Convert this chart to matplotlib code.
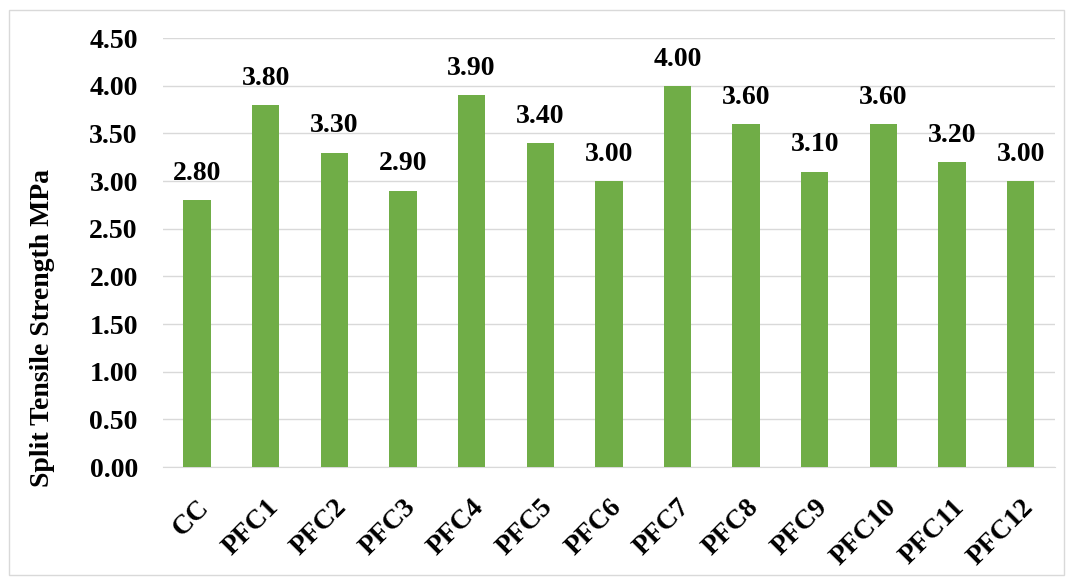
import matplotlib.pyplot as plt
from matplotlib.patches import Rectangle
from matplotlib.transforms import ScaledTranslation

plt.rcParams['font.family'] = ['Liberation Serif', 'DejaVu Serif']
plt.rcParams['font.weight'] = 'bold'

categories = ['CC', 'PFC1', 'PFC2', 'PFC3', 'PFC4', 'PFC5', 'PFC6',
              'PFC7', 'PFC8', 'PFC9', 'PFC10', 'PFC11', 'PFC12']
strength = [2.80, 3.80, 3.30, 2.90, 3.90, 3.40, 3.00,
            4.00, 3.60, 3.10, 3.60, 3.20, 3.00]
yticks = [0.0, 0.5, 1.0, 1.5, 2.0, 2.5, 3.0, 3.5, 4.0, 4.5]

fig = plt.figure(figsize=(10.71, 5.78), dpi=100)
ax = fig.add_axes([0.152, 0.192, 0.833, 0.742])

x = range(len(categories))
bars = ax.bar(x, strength, width=0.4, color='#70AD47', zorder=3)
for b, v in zip(bars, strength):
    ax.text(b.get_x() + b.get_width() / 2, v + 0.15, f'{v:.2f}',
            ha='center', va='bottom', fontsize=20, fontweight='bold')

ax.set_xlim(-0.5, len(categories) - 0.5)
ax.set_ylim(0, 4.5)
ax.set_yticks(yticks)
ax.set_yticklabels([f'{t:.2f}' for t in yticks], fontsize=20, fontweight='bold')
ax.set_xticks(list(x))
ax.set_xticklabels(categories, rotation=45, ha='right', rotation_mode='anchor',
                   fontsize=20, fontweight='bold')
shift = ScaledTranslation(6 / 100, 0, fig.dpi_scale_trans)
for lbl in ax.get_xticklabels():
    lbl.set_transform(lbl.get_transform() + shift)

ax.set_ylabel('Split Tensile Strength MPa', fontsize=20, fontweight='bold')
ax.yaxis.set_label_coords(-0.121, 0.324)

ax.grid(axis='y', color='#D9D9D9', linewidth=1, zorder=0)
for s in ['top', 'right', 'left']:
    ax.spines[s].set_visible(False)
ax.spines['bottom'].set_color('#D9D9D9')
ax.tick_params(axis='y', length=0, pad=18)
ax.tick_params(axis='x', length=0, pad=20)

fig.patches.append(Rectangle((0.008, 0.005), 0.985, 0.978, transform=fig.transFigure,
                             fill=False, edgecolor='#D9D9D9', linewidth=1))

fig.savefig('out.png', dpi=100)
